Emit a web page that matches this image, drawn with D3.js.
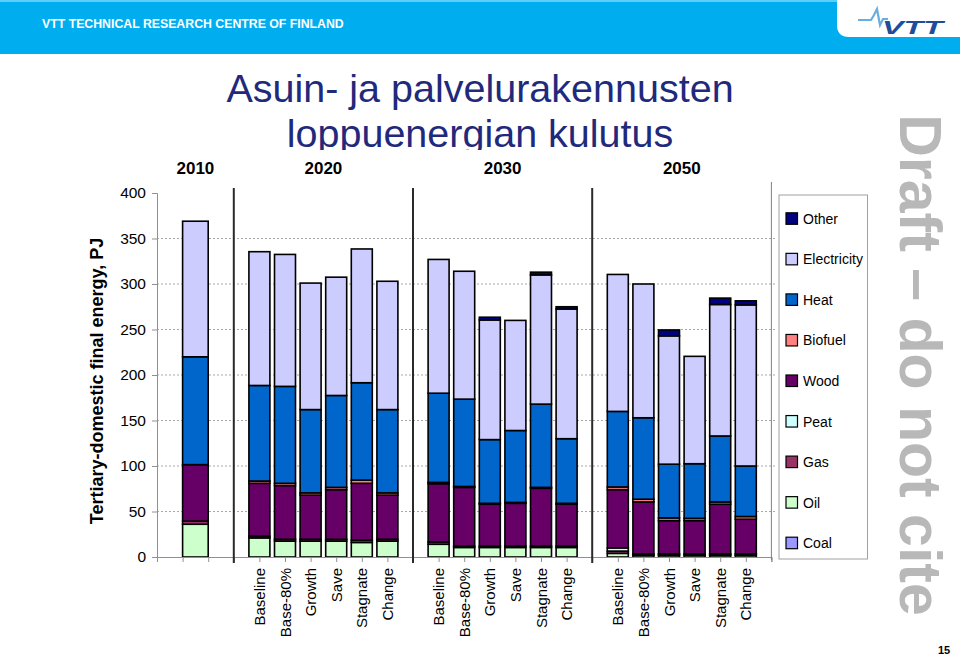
<!DOCTYPE html>
<html><head><meta charset="utf-8">
<script src="https://cdn.jsdelivr.net/npm/d3@7"></script>
<style>body{margin:0;background:#fff;} svg{display:block;font-family:"Liberation Sans",Arial,sans-serif;}</style>
</head><body>
<svg id="c" width="960" height="657"></svg>
<script>
// ---------------- data ----------------
const barYear  = ["2010",
  "2020","2020","2020","2020","2020","2020",
  "2030","2030","2030","2030","2030","2030",
  "2050","2050","2050","2050","2050","2050"];
const barLabel = ["",
  "Baseline","Base-80%","Growth","Save","Stagnate","Change",
  "Baseline","Base-80%","Growth","Save","Stagnate","Change",
  "Baseline","Base-80%","Growth","Save","Stagnate","Change"];
const yearLabels = ["2010","2020","2030","2050"];
const yTicks = [0,50,100,150,200,250,300,350,400];

const coal        = [0,   0,0,0,0,0,0,   0,0,0,0,0,0,   0,0,0,0,0,0];
const oil         = [36,  21,17.5,17.5,17.5,16,17.5,   14,10.5,10.5,10.5,10.5,10.5,   4,2,2,2,2,2];
const gas         = [3.5, 2,2,2,2,2.5,2,   2.5,1.5,1.5,1.5,1.5,1.5,   2.5,1.5,1.5,1.5,1.5,1.5];
const peat        = [0,   0,0,0,0,0,0,   0,0,0,0,0,0,   3.5,0,0,0,0,0];
const wood        = [62,  58,59,48.5,54.5,62.5,48.5,   64,64.5,46,47,63.5,46,   64,57,36.5,36.5,54.5,38];
const biofuel     = [0,   2.5,2.5,2.5,2.5,3.5,2.5,   1.5,1,1,1,1,1,   3,3,3,2.5,2.5,3];
const heat        = [118.5, 105,106.5,91.5,101,107,91.5,   98,96,70,79,91.5,71,   83,89.5,59,60,72.5,55.5];
const electricity = [149, 147,145,139,130,147,141,   147,140.5,131.5,121,142,142.5,   150.5,147,141,118,144.5,177];
const other       = [0,   0,0,0,0,0,0,   0,0,3,0,3,2.5,   0,0,6.5,0,7,4.5];

const seriesNames  = ["Coal","Oil","Gas","Peat","Wood","Biofuel","Heat","Electricity","Other"];
const seriesValues = [coal,oil,gas,peat,wood,biofuel,heat,electricity,other];
const seriesColors = ["#9999ff","#ccffcc","#993366","#ccffff","#660066","#ff8080","#0066cc","#ccccff","#000080"];

// ---------------- build table ----------------
const rows = barYear.map((y,i)=>{
  const r = {year:y, label:barLabel[i], idx:i};
  seriesNames.forEach((s,j)=> r[s]=seriesValues[j][i]);
  return r;
});

// slot layout: each year group, separated by a divider slot
const groups = d3.groups(rows, d=>d.year);
let start = 0; const seps = [];
groups.forEach(([yr, items])=>{
  if(items.length===1){ items[0].pos = start+1.5; items[0].w = 1; start += 3; }
  else { items.forEach((d,i)=>{ d.pos = start+1+i; d.w = 0.82; }); start += items.length+1; }
  seps.push(start);
});
groups.forEach(([yr,items],gi)=>{ items.gc = d3.mean(items,d=>d.pos); });

const svg = d3.select("#c");
const X0=157, X1=771.4, Y0=557, Ytop=193;
const x = d3.scaleLinear().domain([0,start]).range([X0,X1]);
const y = d3.scaleLinear().domain([0,400]).range([Y0,Ytop]);

// ---------------- header ----------------
svg.append("rect").attr("x",0).attr("y",0).attr("width",960).attr("height",54).attr("fill","#00aeef");
svg.append("rect").attr("x",0).attr("y",0).attr("width",960).attr("height",2).attr("fill","#5fcdf5");
svg.append("path").attr("d","M837,0 H960 V37 H849 Q837,37 837,25 Z").attr("fill","#fff");
svg.append("text").attr("x",42).attr("y",28).attr("fill","#fff").attr("font-weight","bold")
  .attr("font-size",12.3).text("VTT TECHNICAL RESEARCH CENTRE OF FINLAND");
svg.append("path").attr("d","M858,20 L871,20 L874,15 L877,9 L880,25 L883,19 L888,19")
  .attr("fill","none").attr("stroke","#6aaee0").attr("stroke-width",2.2);
svg.append("text").attr("x",882).attr("y",34).attr("fill","#1c4e9c").attr("font-weight","bold")
  .attr("font-style","italic").attr("font-size",19).attr("textLength",61).attr("lengthAdjust","spacingAndGlyphs").text("VTT");

// ---------------- title ----------------
const title = svg.append("text").attr("text-anchor","middle").attr("fill","#1f2a7c").attr("font-size",39.5);
title.append("tspan").attr("x",480).attr("y",102).text("Asuin- ja palvelurakennusten");
title.append("tspan").attr("x",480).attr("y",147).text("loppuenergian kulutus");
svg.append("rect").attr("x",150).attr("y",150).attr("width",620).attr("height",12).attr("fill","#fff");

// year labels
svg.append("g").selectAll("text").data(groups).join("text")
  .attr("x",d=>x(d[1].gc)).attr("y",174).attr("text-anchor","middle")
  .attr("font-weight","bold").attr("font-size",17).text(d=>d[0]);

// ---------------- grid ----------------
svg.append("g").selectAll("line").data(yTicks.filter(t=>t>0 && t<400)).join("line")
  .attr("x1",X0).attr("x2",X1+5).attr("y1",d=>y(d)).attr("y2",d=>y(d))
  .attr("stroke","#a8a8a8").attr("stroke-dasharray","2,2").attr("stroke-width",1);

// ---------------- bars ----------------
const stack = d3.stack().keys(seriesNames)(rows);
const gBars = svg.append("g");
stack.forEach((layer,li)=>{
  gBars.append("g").attr("fill",seriesColors[li]).selectAll("rect")
    .data(layer.filter(d=>d[1]-d[0]>0)).join("rect")
    .attr("x",d=>x(d.data.pos - d.data.w/2)).attr("width",d=>x(d.data.w)-x(0))
    .attr("y",d=>y(d[1])).attr("height",d=>y(d[0])-y(d[1]))
    .attr("stroke","#000").attr("stroke-width",1.6);
});

// ---------------- axes ----------------
const yAxis = svg.append("g").attr("transform",`translate(${X0},0)`)
  .call(d3.axisLeft(y).tickValues(yTicks).tickSize(5).tickPadding(6));
yAxis.select(".domain").attr("stroke","#909090");
yAxis.selectAll(".tick line").attr("stroke","#909090");
yAxis.selectAll("text").attr("font-size",15.5).attr("font-family","Liberation Sans, Arial, sans-serif").attr("fill","#000");

const xAxis = svg.append("g").attr("transform",`translate(0,${Y0})`)
  .call(d3.axisBottom(x).tickValues(d3.range(0,start+1)).tickSize(5).tickFormat(""));
xAxis.select(".domain").attr("stroke","#909090");
xAxis.selectAll(".tick line").attr("stroke","#909090");

// separators
svg.append("g").selectAll("line").data(seps).join("line")
  .attr("x1",d=>x(d)).attr("x2",d=>x(d))
  .attr("y1",(d,i)=> i===seps.length-1 ? 182 : 188)
  .attr("y2",(d,i)=> i===seps.length-1 ? 560 : 563)
  .attr("stroke",(d,i)=> i===seps.length-1 ? "#808080" : "#2a2a2a")
  .attr("stroke-width",(d,i)=> i===seps.length-1 ? 1 : 2);

// category labels
svg.append("g").selectAll("text").data(rows.filter(d=>d.label)).join("text")
  .attr("transform",d=>`translate(${x(d.pos)+5.5},568) rotate(-90)`)
  .attr("text-anchor","end").attr("font-size",15).text(d=>d.label);

// y title
svg.append("text").attr("transform","translate(103,381) rotate(-90)").attr("text-anchor","middle")
  .attr("font-weight","bold").attr("font-size",18).text("Tertiary-domestic final energy, PJ");

// ---------------- legend ----------------
svg.append("rect").attr("x",779).attr("y",195).attr("width",88.5).attr("height",364)
  .attr("fill","#fff").attr("stroke","#a0a0a0").attr("stroke-width",1);
const legOrder = seriesNames.map((n,i)=>i).reverse();
const lg = svg.append("g").selectAll("g").data(legOrder).join("g")
  .attr("transform",(d,i)=>`translate(786,${218.3+i*40.55})`);
lg.append("rect").attr("x",0).attr("y",-5.5).attr("width",11.5).attr("height",11.5)
  .attr("fill",d=>seriesColors[d]).attr("stroke","#000").attr("stroke-width",1.2);
lg.append("text").attr("x",17).attr("y",5.5).attr("font-size",14).text(d=>seriesNames[d]);

// ---------------- watermark & page ----------------
svg.append("text").attr("transform","translate(900,365) rotate(90)").attr("text-anchor","middle")
  .attr("font-weight","bold").attr("font-size",59).attr("fill","#b8b8b8").text("Draft \u2013 do not cite");
svg.append("text").attr("x",938).attr("y",654).attr("font-weight","bold").attr("font-size",11).text("15");
</script>
</body></html>
